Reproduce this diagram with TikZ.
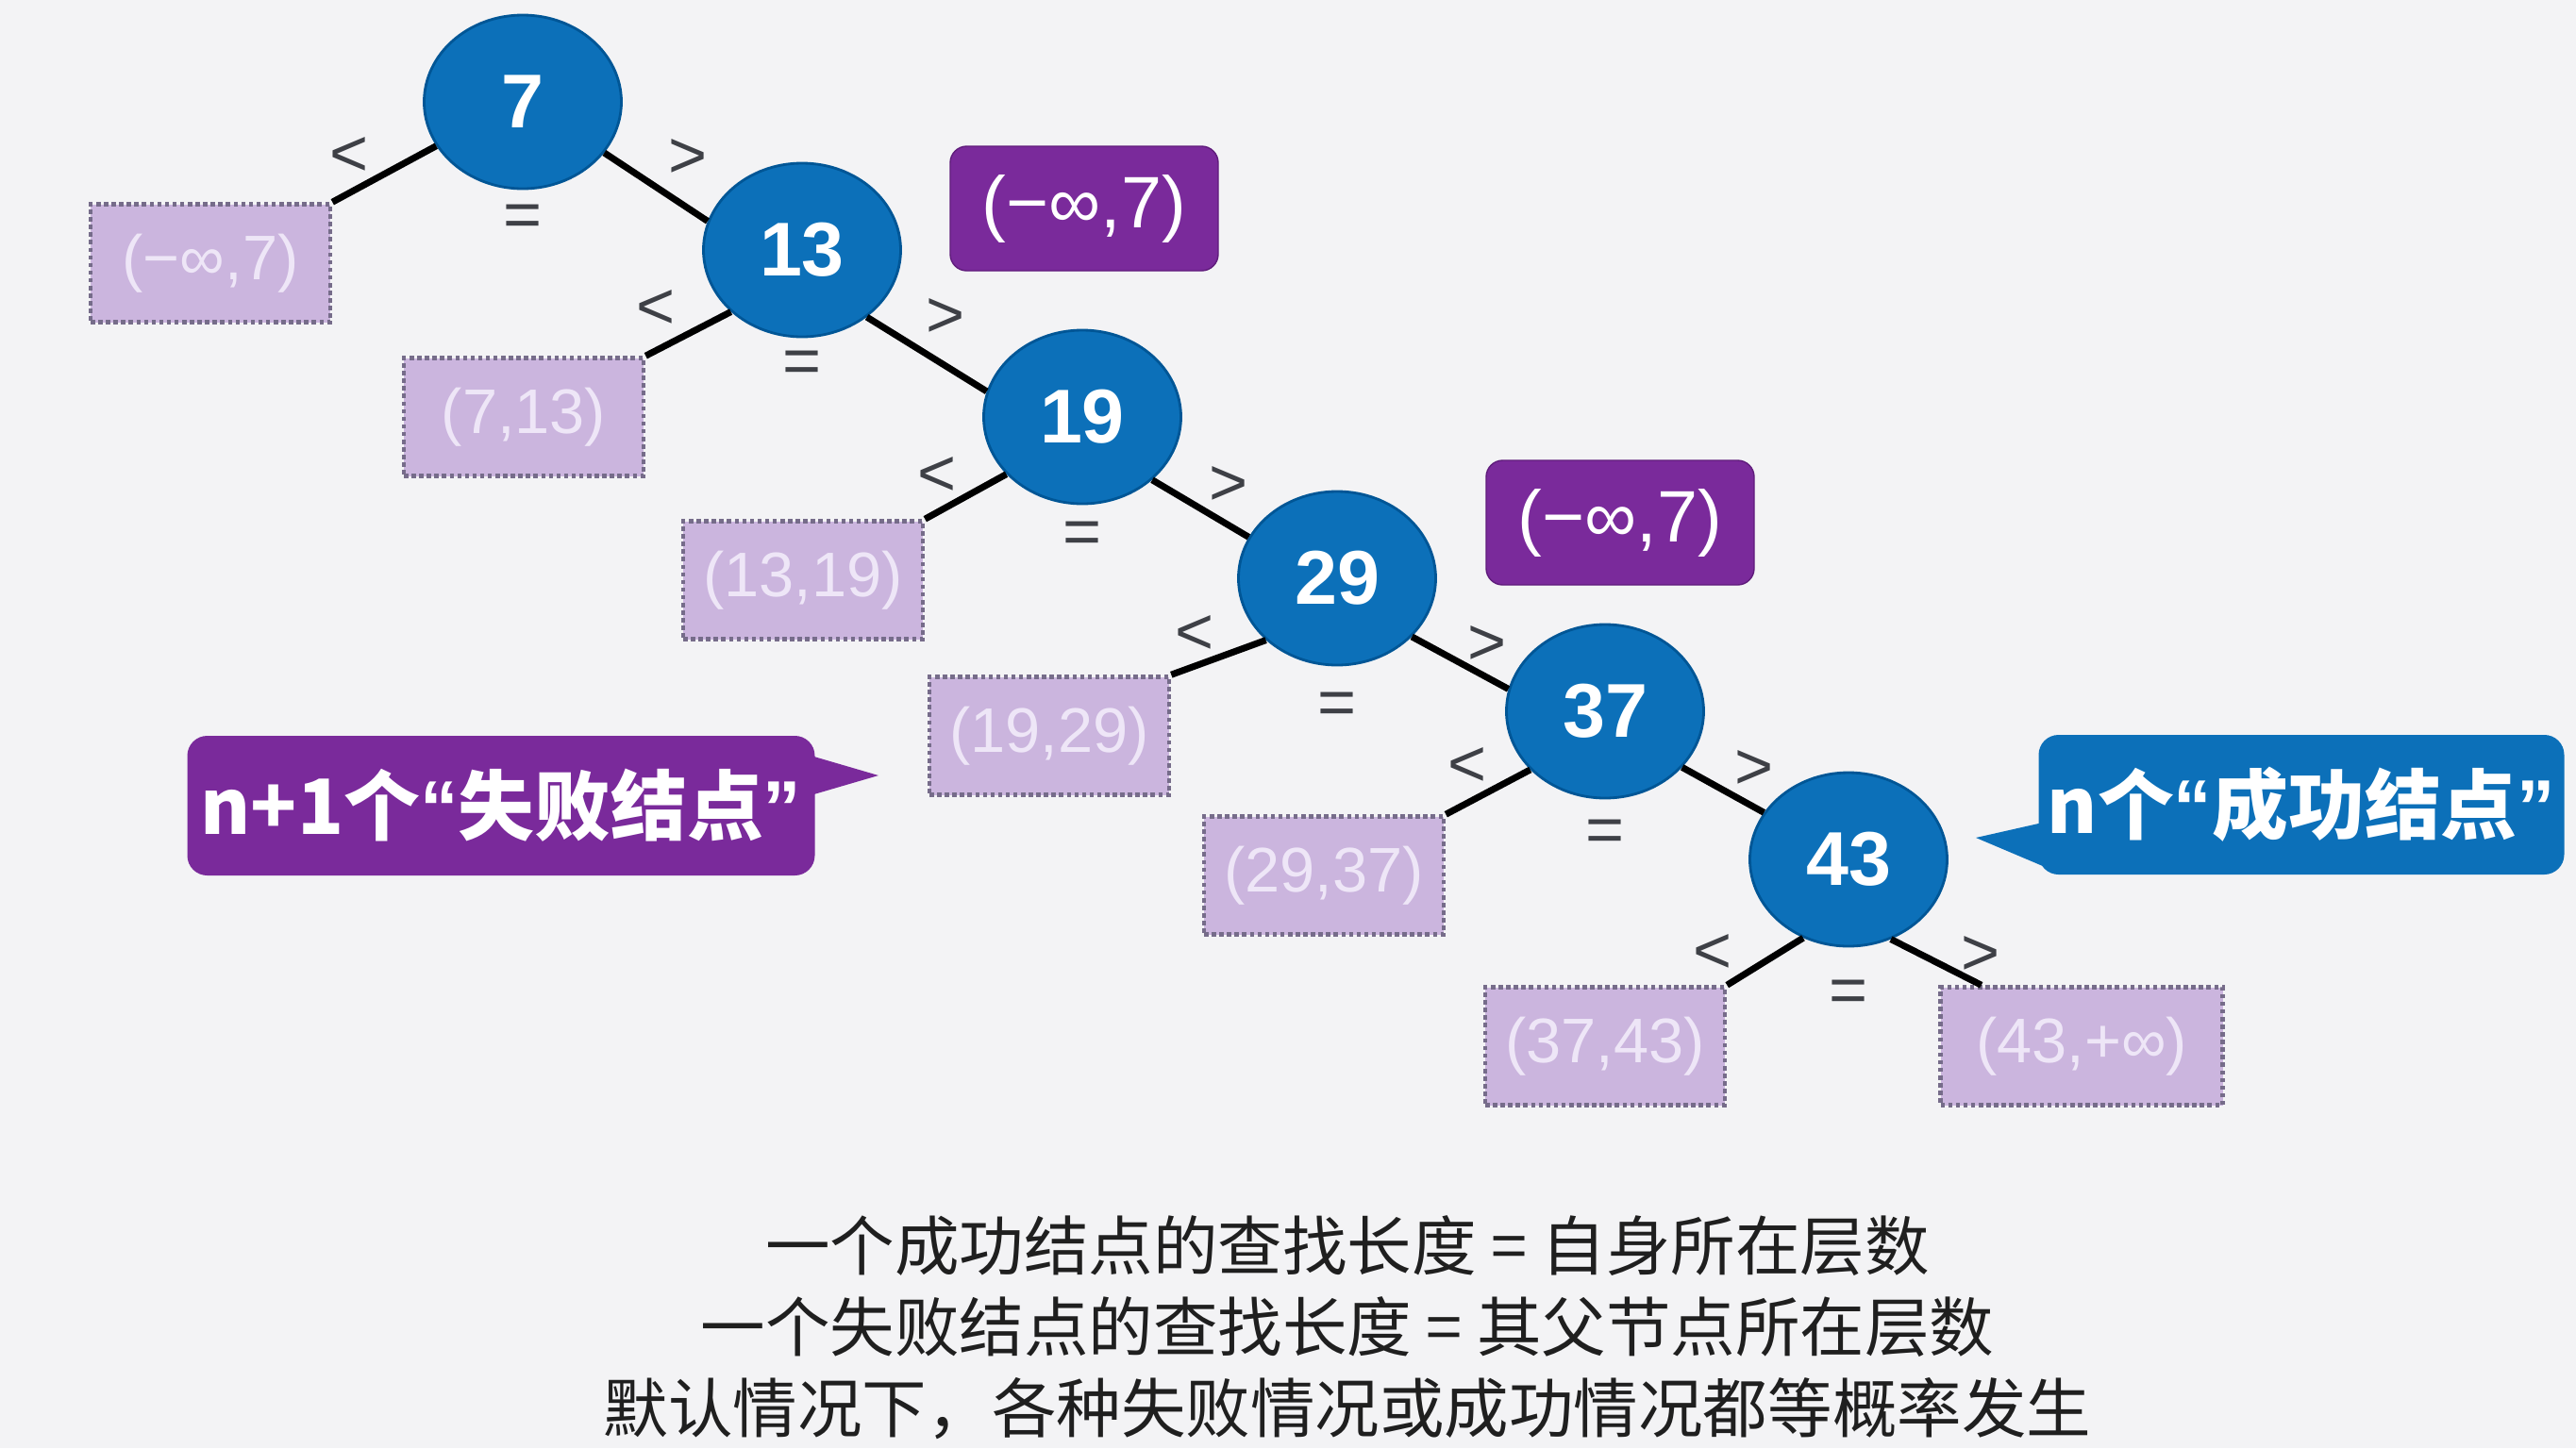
\documentclass[tikz,border=0pt]{standalone}
\usepackage{fontspec}
\usepackage{tikz}
\usetikzlibrary{positioning,calc,shapes.geometric}
\newfontfamily\numfont{Liberation Sans}
\newfontfamily\cjk{Noto Sans CJK SC}
\newcommand{\openq}{{\numfont “}}
\newcommand{\closeq}{{\numfont ”}}
\definecolor{bstblue}{RGB}{12,112,185}
\definecolor{bstblueedge}{RGB}{0,86,150}
\definecolor{bstpurple}{RGB}{122,42,155}
\definecolor{bstpurpleedge}{RGB}{96,28,124}
\definecolor{bstlav}{RGB}{203,181,222}
\definecolor{bstlavtext}{RGB}{238,230,247}
\definecolor{bstdot}{RGB}{118,108,138}
\definecolor{bstgray}{RGB}{62,64,70}
\definecolor{bstbg}{RGB}{243,243,245}
\tikzset{
  keynode/.style={ellipse, draw=bstblueedge, fill=bstblue, line width=0.8pt,
    minimum width=20.9mm, minimum height=18.4mm, inner sep=0pt, text=white,
    font=\numfont\bfseries\fontsize{23}{23}\selectfont},
  failbox/.style={rectangle, draw=bstdot, densely dotted, line width=1.3pt, fill=bstlav,
    minimum width=25.4mm, minimum height=12.5mm, text=bstlavtext,
    font=\numfont\fontsize{19}{19}\selectfont},
  rangetag/.style={rectangle, rounded corners=5pt, draw=bstpurpleedge, fill=bstpurple,
    minimum width=28.4mm, minimum height=13.2mm, text=white,
    font=\numfont\fontsize{22}{22}\selectfont},
  notebox/.style={rectangle, rounded corners=6pt, minimum height=14.8mm, text=white,
    inner sep=2pt, font=\cjk\bfseries\fontsize{23}{23}\selectfont},
  edgeline/.style={line width=2pt, black},
  cmp/.style={text=bstgray, inner sep=1pt, font=\numfont\fontsize{20}{20}\selectfont},
  summary/.style={align=center, text=black!88, font=\cjk\fontsize{19.5}{24.4}\selectfont}
}

\begin{document}
\begin{tikzpicture}
  \fill[bstbg] (0,0) rectangle (27.30,-15.35);
  \useasboundingbox (0,0) rectangle (27.30,-15.35);

  % key nodes
  \node[keynode] (n7) at (5.54,-1.08) {7};
  \node[keynode] (n13) at (8.50,-2.65) {13};
  \node[keynode] (n19) at (11.47,-4.42) {19};
  \node[keynode] (n29) at (14.17,-6.13) {29};
  \node[keynode] (n37) at (17.01,-7.54) {37};
  \node[keynode] (n43) at (19.59,-9.11) {43};

  % failure intervals
  \node[failbox] (f0) at (2.23,-2.79) {(−∞,7)};
  \node[failbox] (f1) at (5.55,-4.42) {(7,13)};
  \node[failbox] (f2) at (8.51,-6.15) {(13,19)};
  \node[failbox] (f3) at (11.12,-7.80) {(19,29)};
  \node[failbox] (f4) at (14.03,-9.28) {(29,37)};
  \node[failbox] (f5) at (17.01,-11.09) {(37,43)};
  \node[failbox,minimum width=29.9mm] (f6) at (22.06,-11.09) {(43,+∞)};

  \node[rangetag] (r1) at (11.49,-2.21) {(−∞,7)};
  \node[rangetag] (r2) at (17.17,-5.54) {(−∞,7)};

  % edges
  \draw[edgeline] (n7.207) -- (f0.north east);
  \draw[edgeline] (n7.-32) -- (n13.163);
  \draw[edgeline] (n13.221) -- (f1.north east);
  \draw[edgeline] (n13.-46) -- (n19.165);
  \draw[edgeline] (n19.217) -- (f2.north east);
  \draw[edgeline] (n19.-42) -- (n29.155);
  \draw[edgeline] (n29.221) -- (f3.north east);
  \draw[edgeline] (n29.-38) -- (n37.167);
  \draw[edgeline] (n37.218) -- (f4.north east);
  \draw[edgeline] (n37.-36) -- (n43.151);
  \draw[edgeline] (n43.240) -- (f5.north east);
  \draw[edgeline] (n43.-62) -- ($(f6.north west)!0.15!(f6.north east)$);

  % comparison marks
  \node[cmp] (lt7) at ($(n7)+(-1.84,-0.58)$) {<};
  \node[cmp] (gt7) at ($(n7)+(1.75,-0.60)$) {>};
  \node[cmp] (eq7) at ($(n7)+(0,-1.26)$) {=};
  \node[cmp] (lt13) at ($(n13)+(-1.55,-0.63)$) {<};
  \node[cmp] (gt13) at ($(n13)+(1.52,-0.72)$) {>};
  \node[cmp] (eq13) at ($(n13)+(0,-1.24)$) {=};
  \node[cmp] (lt19) at ($(n19)+(-1.54,-0.63)$) {<};
  \node[cmp] (gt19) at ($(n19)+(1.55,-0.73)$) {>};
  \node[cmp] (eq19) at ($(n19)+(0,-1.28)$) {=};
  \node[cmp] (lt29) at ($(n29)+(-1.51,-0.60)$) {<};
  \node[cmp] (gt29) at ($(n29)+(1.59,-0.71)$) {>};
  \node[cmp] (eq29) at ($(n29)+(0,-1.38)$) {=};
  \node[cmp] (lt37) at ($(n37)+(-1.46,-0.59)$) {<};
  \node[cmp] (gt37) at ($(n37)+(1.58,-0.62)$) {>};
  \node[cmp] (eq37) at ($(n37)+(0,-1.32)$) {=};
  \node[cmp] (lt43) at ($(n43)+(-1.44,-1.00)$) {<};
  \node[cmp] (gt43) at ($(n43)+(1.40,-1.02)$) {>};
  \node[cmp] (eq43) at ($(n43)+(0,-1.45)$) {=};

  % callouts
  \node[notebox,fill=bstpurple,minimum width=66.5mm] (failnote) at (5.31,-8.54) {n+1个\openq 失败结点\closeq};
  \coordinate (failtip) at (9.31,-8.22);
  \fill[bstpurple] ($(failnote.east)+(-0.05,0.53)$) -- (failtip) -- ($(failnote.east)+(-0.05,0.11)$) -- cycle;

  \node[notebox,fill=bstblue,minimum width=55.7mm] (hitnote) at (24.39,-8.53) {n个\openq 成功结点\closeq};
  \coordinate (hittip) at (20.94,-8.88);
  \fill[bstblue] ($(hitnote.west)+(0.05,-0.19)$) -- (hittip) -- ($(hitnote.west)+(0.05,-0.65)$) -- cycle;

  \node[summary] (rules) at (14.28,-14.07) {一个成功结点的查找长度 = 自身所在层数\\一个失败结点的查找长度 = 其父节点所在层数\\默认情况下，各种失败情况或成功情况都等概率发生};
\end{tikzpicture}
\end{document}
